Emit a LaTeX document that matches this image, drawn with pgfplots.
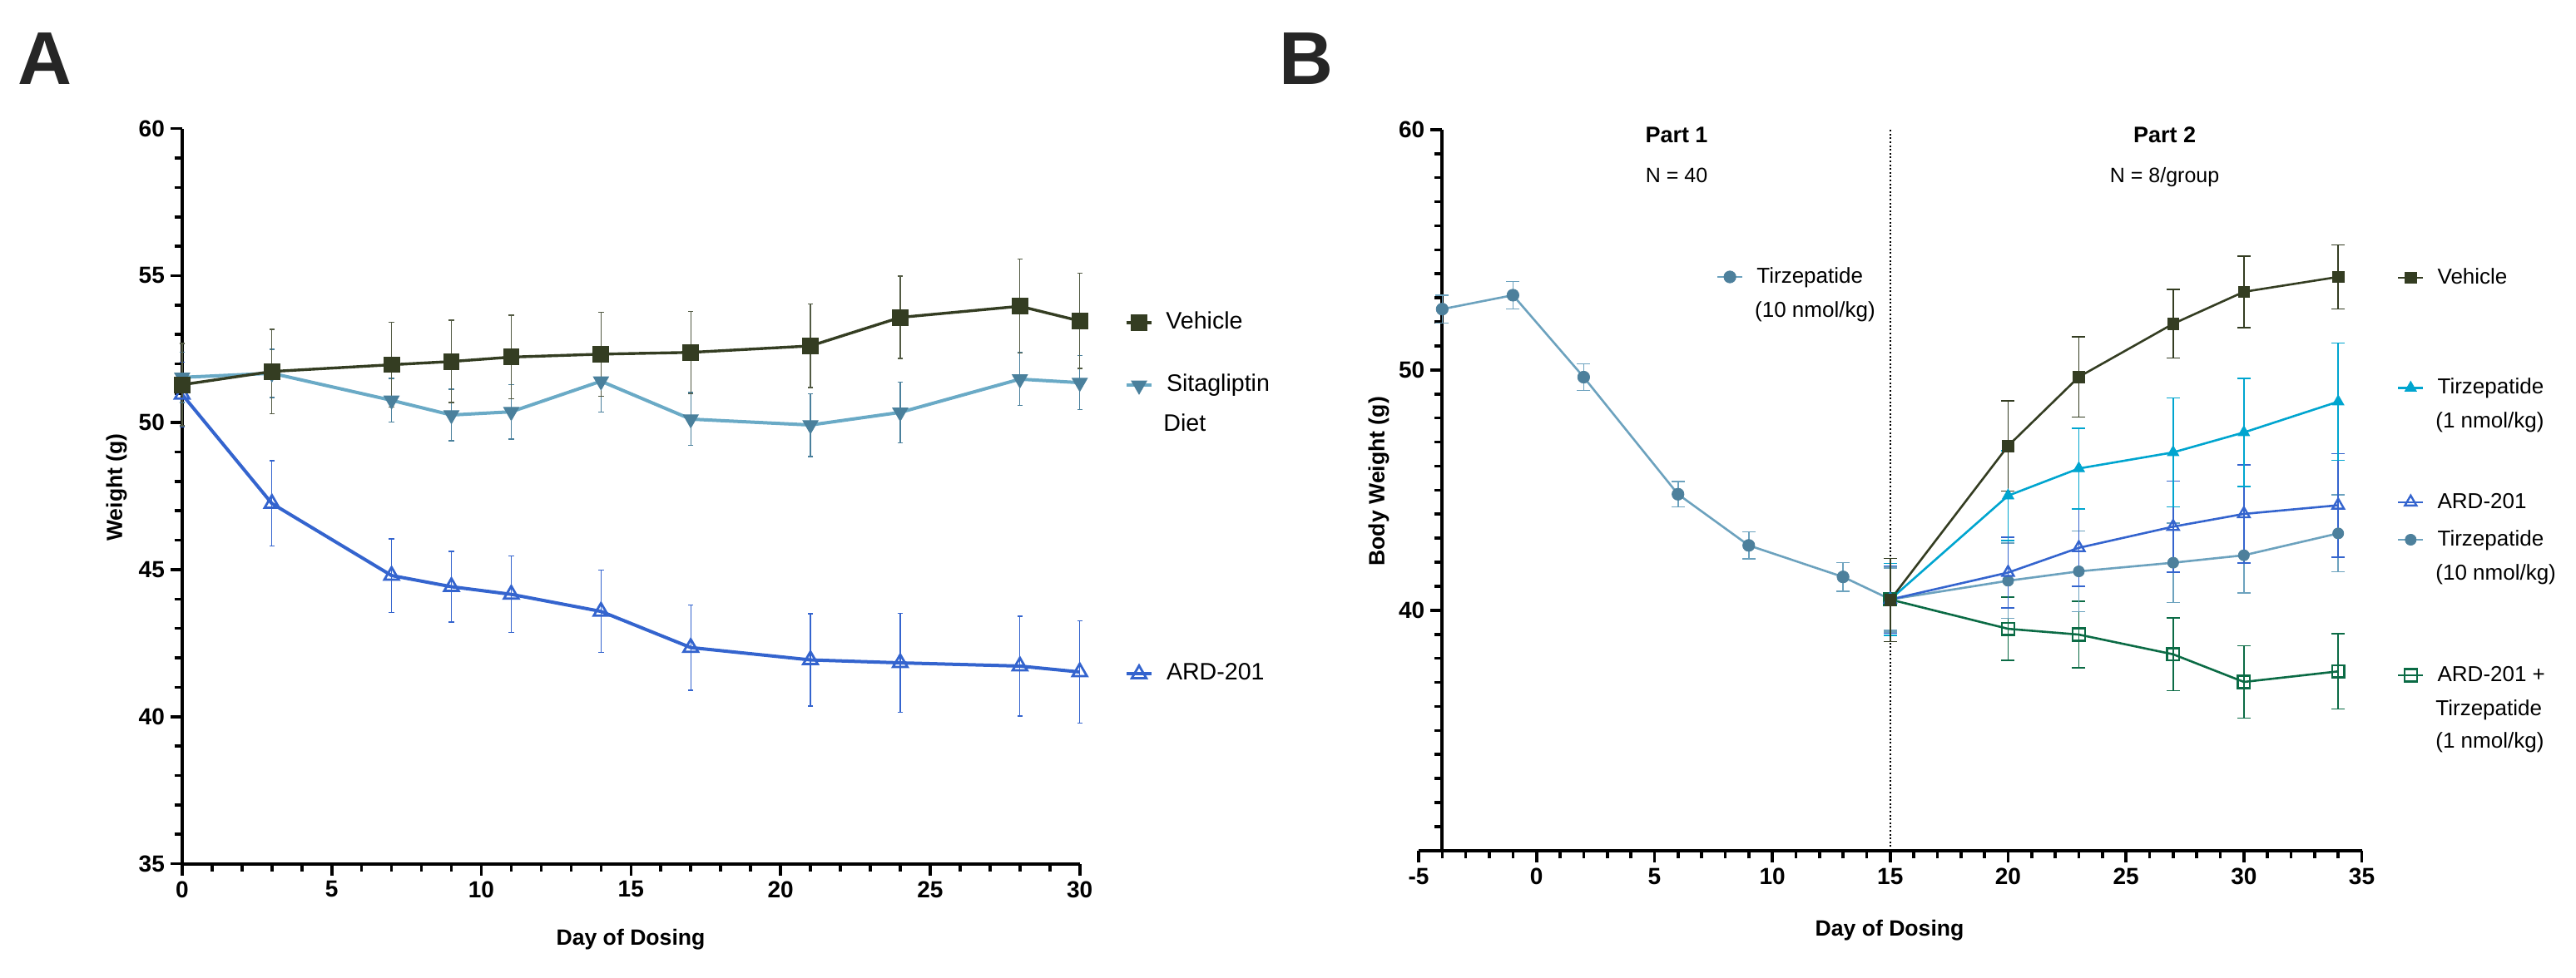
\documentclass[border=0pt]{standalone}
\usepackage{fontspec}
\setmainfont{Liberation Sans}
\usepackage{pgfplots}
\pgfplotsset{compat=1.18}

\definecolor{vehC}{HTML}{343D22}
\definecolor{sitL}{HTML}{6AAAC6}
\definecolor{sitM}{HTML}{4A809C}
\definecolor{ardC}{HTML}{3464CE}
\definecolor{tzoneC}{HTML}{00A5CF}
\definecolor{tzL}{HTML}{6CA2BE}
\definecolor{tzM}{HTML}{4D809C}
\definecolor{grnC}{HTML}{0B6B45}
\definecolor{letterC}{HTML}{262626}

\newcommand{\tickfont}{\fontsize{14}{14}\selectfont\bfseries}
\newcommand{\axlab}{\fontsize{13.3}{14}\selectfont\bfseries}
\newcommand{\legAfont}{\fontsize{14.3}{16}\selectfont}
\newcommand{\legBfont}{\fontsize{13}{15}\selectfont}

\pgfplotsset{
  panel/.style={
    scale only axis, anchor=south west,
    axis lines=left, axis line style={-, line width=2pt, black},
    tick align=outside, major tick length=7pt, minor tick length=4.6pt,
    major tick style={line width=1.8pt, black},
    minor tick style={line width=1.8pt, black},
    ticklabel style={font=\tickfont, black},
    /pgf/number format/assume math mode=true,
    clip=false,
  },
  vehA/.style={color=vehC, line width=1.7pt, mark=square*, mark size=4.7pt,
    mark options={solid, fill=vehC, draw=vehC, line width=0.5pt}},
  sitA/.style={color=sitL, line width=2pt, mark=triangle*, mark size=5.2pt,
    mark options={solid, rotate=180, fill=sitM, draw=sitM, line width=0.5pt}},
  ardA/.style={color=ardC, line width=2pt, mark=triangle, mark size=5pt,
    mark options={solid, fill=white, draw=ardC, line width=1.4pt}},
  errA/.style={error bars/y dir=both, error bars/y explicit,
    error bars/error bar style={line width=0.7pt, #1},
    error bars/error mark options={rotate=90, mark size=1.6pt, line width=0.7pt, #1}},
  vehB/.style={color=vehC, line width=1.3pt, mark=square*, mark size=3.4pt,
    mark options={solid, fill=vehC, draw=vehC, line width=0.4pt}},
  tzoneB/.style={color=tzoneC, line width=1.3pt, mark=triangle*, mark size=4pt,
    mark options={solid, fill=tzoneC, draw=tzoneC, line width=0.4pt}},
  ardB/.style={color=ardC, line width=1.3pt, mark=triangle, mark size=4pt,
    mark options={solid, fill=white, draw=ardC, line width=1.2pt}},
  tztenB/.style={color=tzL, line width=1.3pt, mark=*, mark size=3.3pt,
    mark options={solid, fill=tzM, draw=tzM, line width=0.4pt}},
  grnB/.style={color=grnC, line width=1.3pt, mark=square, mark size=3.7pt,
    mark options={solid, fill=white, draw=grnC, line width=1.2pt}},
  errB/.style={error bars/y dir=both, error bars/y explicit,
    error bars/error bar style={line width=0.8pt, #1},
    error bars/error mark options={rotate=90, mark size=4pt, line width=0.8pt, #1}},
  legbox/.style={hide axis, scale only axis, width=10pt, height=10pt,
    xmin=0, xmax=1, ymin=0, ymax=1, anchor=center,
    legend style={at={(0.5,0.5)}, anchor=west, draw=none, fill=none,
      inner sep=0pt, outer sep=0pt, column sep=8pt, font=#1,
      nodes={inner sep=0pt, text height=0.72em, text depth=0pt}},
    legend image code/.code={%
      \draw[mark repeat=2, mark phase=2, ##1] plot coordinates {(0pt,0pt) (7.5pt,0pt) (15pt,0pt)};}},
}

\begin{document}
\begin{tikzpicture}
\useasboundingbox (0pt,0pt) rectangle (1548pt,587.5pt);

% ---------------- Panel A ----------------
\begin{axis}[panel, width=539.4pt, height=441.9pt, at={(109.45pt,68.25pt)},
  xmin=0, xmax=30, ymin=35, ymax=60,
  xtick={0,5,...,30}, minor xtick={0,...,30},
  ytick={35,40,...,60}, minor ytick={35,...,60}]
\addplot[ardA, errA={color=ardC}] coordinates {
 (0,50.96) +- (0,1.10)
 (3,47.25) +- (0,1.45)
 (7,44.80) +- (0,1.25)
 (9,44.42) +- (0,1.20)
 (11,44.16) +- (0,1.30)
 (14,43.58) +- (0,1.40)
 (17,42.35) +- (0,1.45)
 (21,41.93) +- (0,1.57)
 (24,41.83) +- (0,1.68)
 (28,41.72) +- (0,1.70)
 (30,41.52) +- (0,1.74)
};
\addplot[sitA, errA={color=sitM}] coordinates {
 (0,51.54) +- (0,0.86)
 (3,51.68) +- (0,0.82)
 (7,50.76) +- (0,0.74)
 (9,50.26) +- (0,0.88)
 (11,50.37) +- (0,0.93)
 (14,51.41) +- (0,1.05)
 (17,50.12) +- (0,0.90)
 (21,49.92) +- (0,1.07)
 (24,50.35) +- (0,1.03)
 (28,51.48) +- (0,0.90)
 (30,51.36) +- (0,0.92)
};
\addplot[vehA, errA={color=vehC!85!white}] coordinates {
 (0,51.29) +- (0,1.40)
 (3,51.74) +- (0,1.44)
 (7,51.97) +- (0,1.44)
 (9,52.08) +- (0,1.40)
 (11,52.23) +- (0,1.42)
 (14,52.33) +- (0,1.43)
 (17,52.39) +- (0,1.40)
 (21,52.61) +- (0,1.42)
 (24,53.58) +- (0,1.40)
 (28,53.96) +- (0,1.60)
 (30,53.46) +- (0,1.62)
};
\end{axis}

% ---------------- Panel B ----------------
\begin{axis}[panel, width=566.75pt, height=433.55pt, at={(852.5pt,76.05pt)},
  xmin=-5, xmax=35, ymin=30, ymax=60,
  axis y line shift=-14.17pt,
  xtick={-5,0,...,35}, minor xtick={-5,...,35},
  ytick={40,50,60}, minor ytick={30,...,60}]
\addplot[black, line width=0.9pt, dash pattern=on 1pt off 1.3pt, forget plot] coordinates {(15,30) (15,60)};
\addplot[tztenB, mark size=3.6pt, errB={color=tzL}] coordinates {
 (-4,52.53) +- (0,0.58)
 (-1,53.11) +- (0,0.57)
 (2,49.70) +- (0,0.55)
 (6,44.83) +- (0,0.53)
 (9,42.70) +- (0,0.56)
 (13,41.39) +- (0,0.60)
 (15,40.46) +- (0,1.30)
};
\addplot[grnB, errB={color=grnC}] coordinates {
 (15,40.45) +- (0,1.40)
 (20,39.23) +- (0,1.32)
 (23,38.99) +- (0,1.39)
 (27,38.17) +- (0,1.51)
 (30,37.02) +- (0,1.50)
 (34,37.46) +- (0,1.57)
};
\addplot[tztenB, errB={color=tzL}] coordinates {
 (15,40.45) +- (0,1.35)
 (20,41.23) +- (0,1.56)
 (23,41.62) +- (0,1.68)
 (27,41.98) +- (0,1.65)
 (30,42.29) +- (0,1.56)
 (34,43.20) +- (0,1.60)
};
\addplot[ardB, errB={color=ardC}] coordinates {
 (15,40.45) +- (0,1.40)
 (20,41.57) +- (0,1.47)
 (23,42.60) +- (0,1.60)
 (27,43.48) +- (0,1.89)
 (30,44.01) +- (0,2.05)
 (34,44.37) +- (0,2.15)
};
\addplot[tzoneB, errB={color=tzoneC}] coordinates {
 (15,40.45) +- (0,1.50)
 (20,44.77) +- (0,1.87)
 (23,45.90) +- (0,1.68)
 (27,46.57) +- (0,2.27)
 (30,47.40) +- (0,2.25)
 (34,48.68) +- (0,2.44)
};
\addplot[vehB, errB={color=vehC}] coordinates {
 (15,40.43) +- (0,1.73)
 (20,46.84) +- (0,1.88)
 (23,49.71) +- (0,1.67)
 (27,51.92) +- (0,1.43)
 (30,53.25) +- (0,1.49)
 (34,53.87) +- (0,1.33)
};
\end{axis}

% ---------------- Legends A ----------------
\begin{axis}[legbox=\legAfont, at={(676pt,393.5pt)}]
\addlegendimage{vehA}\addlegendentry{Vehicle}
\end{axis}
\begin{axis}[legbox=\legAfont, at={(676pt,355pt)}]
\addlegendimage{sitA}\addlegendentry{Sitagliptin}
\end{axis}
\begin{axis}[legbox=\legAfont, at={(676pt,183pt)}]
\addlegendimage{ardA}\addlegendentry{ARD-201}
\end{axis}
\node[font=\legAfont, anchor=base west, inner sep=0pt] at (699pt,328pt) {Diet};

% ---------------- Legends B ----------------
\begin{axis}[legbox=\legBfont, at={(1031.4pt,421pt)}]
\addlegendimage{tztenB, mark size=3.6pt}\addlegendentry{Tirzepatide}
\end{axis}
\node[font=\legBfont, anchor=base west, inner sep=0pt] at (1054.4pt,396.5pt) {(10 nmol/kg)};

\begin{axis}[legbox=\legBfont, at={(1440.5pt,420.5pt)}]
\addlegendimage{vehB}\addlegendentry{Vehicle}
\end{axis}
\begin{axis}[legbox=\legBfont, at={(1440.5pt,354.5pt)}]
\addlegendimage{tzoneB}\addlegendentry{Tirzepatide}
\end{axis}
\node[font=\legBfont, anchor=base west, inner sep=0pt] at (1463.5pt,330.5pt) {(1 nmol/kg)};
\begin{axis}[legbox=\legBfont, at={(1440.5pt,285.8pt)}]
\addlegendimage{ardB}\addlegendentry{ARD-201}
\end{axis}
\begin{axis}[legbox=\legBfont, at={(1440.5pt,263pt)}]
\addlegendimage{tztenB}\addlegendentry{Tirzepatide}
\end{axis}
\node[font=\legBfont, anchor=base west, inner sep=0pt] at (1463.5pt,239pt) {(10 nmol/kg)};
\begin{axis}[legbox=\legBfont, at={(1440.5pt,181.5pt)}]
\addlegendimage{grnB}\addlegendentry{ARD-201 +}
\end{axis}
\node[font=\legBfont, anchor=base west, inner sep=0pt] at (1463.5pt,157.1pt) {Tirzepatide};
\node[font=\legBfont, anchor=base west, inner sep=0pt] at (1463.5pt,137.6pt) {(1 nmol/kg)};

% ---------------- Texts ----------------
\node[font=\fontsize{45}{45}\selectfont\bfseries, text=letterC] at (27pt,552.3pt) {A};
\node[font=\fontsize{45}{45}\selectfont\bfseries, text=letterC] at (784.8pt,552.3pt) {B};
\node[rotate=90, font=\axlab] at (70pt,294.5pt) {Weight (g)};
\node[font=\axlab] at (379pt,22.5pt) {Day of Dosing};
\node[rotate=90, font=\axlab] at (828.5pt,298.1pt) {Body Weight (g)};
\node[font=\axlab] at (1135.5pt,28.2pt) {Day of Dosing};
\node[font=\fontsize{13.5}{14}\selectfont\bfseries, anchor=base] at (1007.5pt,501.8pt) {Part 1};
\node[font=\fontsize{12.5}{14}\selectfont, anchor=base] at (1007.5pt,477.7pt) {N = 40};
\node[font=\fontsize{13.5}{14}\selectfont\bfseries, anchor=base] at (1300.8pt,501.7pt) {Part 2};
\node[font=\fontsize{12.5}{14}\selectfont, anchor=base] at (1300.8pt,477.8pt) {N = 8/group};
\end{tikzpicture}
\end{document}
